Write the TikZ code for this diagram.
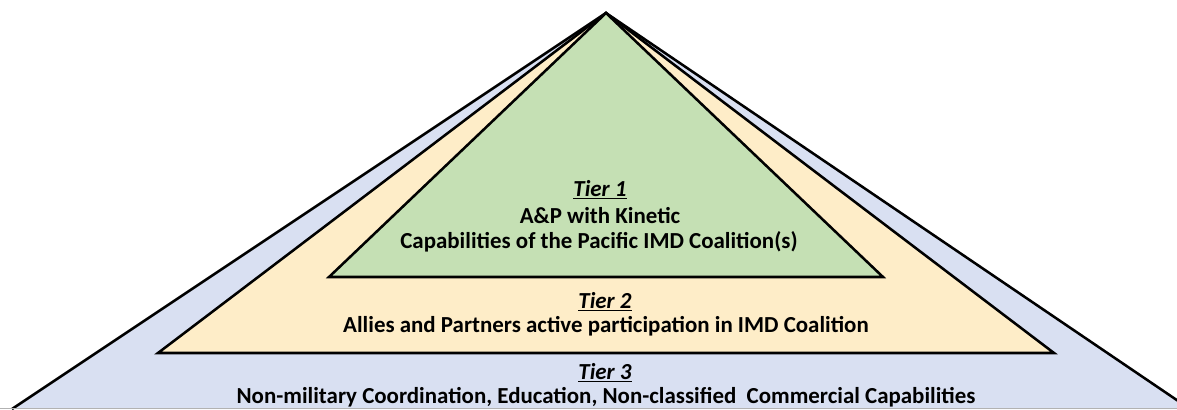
\documentclass[tikz,border=0pt]{standalone}
\usepackage{fontspec}
\setmainfont{Carlito}
\definecolor{tieronefill}{HTML}{C5E0B4}
\definecolor{tiertwofill}{HTML}{FEEDC8}
\definecolor{tierthreefill}{HTML}{D9E0F2}
\newcommand{\tiername}[1]{\textit{\underline{#1}}}
\begin{document}
\begin{tikzpicture}[x=0.025cm, y=-0.025cm, line width=1.8pt, line join=miter,
  every node/.append style={font=\bfseries\fontsize{16.3}{19}\selectfont, inner sep=0pt, anchor=base}]
  \useasboundingbox (0,0) rectangle (1177,409);
  \coordinate (apex) at (606,13);
  % tier 3
  \fill[tierthreefill] (apex) -- (12,409) -- (1190,409) -- cycle;
  \draw (12,409) -- (apex) -- (1190,409);
  \draw[gray!60, line width=0.8pt] (0,408.5) -- (1177,408.5);
  % tier 2
  \filldraw[fill=tiertwofill] (apex) -- (158,353) -- (1054,353) -- cycle;
  % tier 1
  \filldraw[fill=tieronefill] (apex) -- (329,277) -- (883,277) -- cycle;
  \node (t1name) at (600,196) {\tiername{Tier 1}};
  \node (t1line1) at (600,223) {A\&P with Kinetic};
  \node (t1line2) at (599,248) {Capabilities of the Pacific IMD Coalition(s)};
  \node (t2name) at (605,308) {\tiername{Tier 2}};
  \node (t2line) at (606,332) {Allies and Partners active participation in IMD Coalition};
  \node (t3name) at (605,379) {\tiername{Tier 3}};
  \node (t3line) at (606,403) {Non-military Coordination, Education, Non-classified\ \ Commercial Capabilities};
\end{tikzpicture}
\end{document}
